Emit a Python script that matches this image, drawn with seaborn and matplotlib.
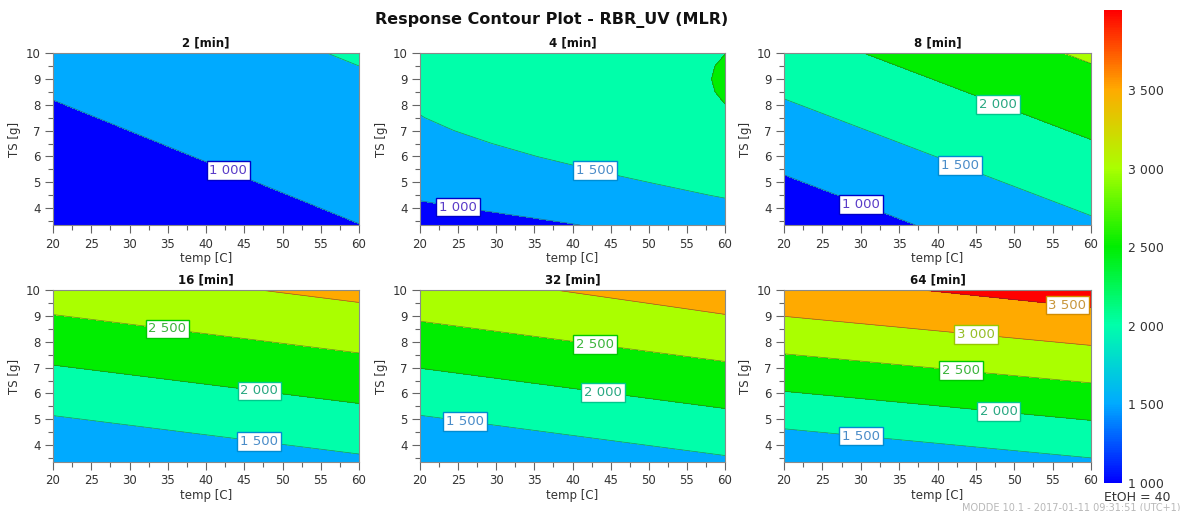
import numpy as np
import matplotlib
matplotlib.use("Agg")
import matplotlib.pyplot as plt
from matplotlib.ticker import MultipleLocator, FuncFormatter
from matplotlib.colors import Normalize
from matplotlib.cm import ScalarMappable
import seaborn as sns

# ---------------- data ----------------
temp_grid = [20, 30, 40, 50, 60]
ts_grid = [3.35, 4, 5, 6, 7, 8, 9, 10]
# the 4 min panel is curved, so it is read on a finer grid
temp_grid_4min = [20, 30, 40, 50, 55, 60]
ts_grid_4min = [3.35, 4, 4.5, 5, 5.5, 6, 6.5, 7, 7.5, 8, 8.5, 9, 9.5, 10]
panel_titles = ["2 [min]", "4 [min]", "8 [min]", "16 [min]", "32 [min]", "64 [min]"]

# response RBR_UV on the grid: one row per TS value, one column per temp value
rbr_2min = [[604, 702, 800, 898, 996],
            [657, 755, 853, 951, 1049],
            [739, 837, 935, 1033, 1131],
            [821, 919, 1017, 1115, 1213],
            [903, 1001, 1099, 1197, 1295],
            [985, 1083, 1181, 1279, 1377],
            [1067, 1165, 1263, 1361, 1459],
            [1149, 1247, 1345, 1443, 1541]]
rbr_4min = [[762, 874, 988, 1108, 1173, 1238],
            [933, 1045, 1159, 1279, 1344, 1409],
            [1050, 1162, 1276, 1396, 1461, 1526],
            [1154, 1266, 1380, 1500, 1565, 1630],
            [1247, 1359, 1473, 1593, 1658, 1723],
            [1327, 1439, 1553, 1673, 1738, 1803],
            [1394, 1506, 1620, 1740, 1805, 1870],
            [1450, 1562, 1676, 1796, 1861, 1926],
            [1493, 1605, 1719, 1839, 1904, 1969],
            [1523, 1635, 1749, 1869, 1934, 1999],
            [1541, 1653, 1767, 1887, 1952, 2017],
            [1547, 1659, 1773, 1893, 1958, 2023],
            [1541, 1653, 1767, 1887, 1952, 2017],
            [1522, 1634, 1748, 1868, 1933, 1998]]
rbr_8min = [[671, 863, 1055, 1247, 1439],
            [781, 973, 1165, 1357, 1549],
            [951, 1143, 1335, 1527, 1719],
            [1121, 1313, 1505, 1697, 1889],
            [1291, 1483, 1675, 1867, 2059],
            [1461, 1653, 1845, 2037, 2229],
            [1631, 1823, 2015, 2207, 2399],
            [1801, 1993, 2185, 2377, 2569]]
rbr_16min = [[1041, 1136, 1231, 1326, 1421],
             [1207, 1302, 1397, 1492, 1587],
             [1463, 1558, 1653, 1748, 1843],
             [1719, 1814, 1909, 2004, 2099],
             [1975, 2070, 2165, 2260, 2355],
             [2231, 2326, 2421, 2516, 2611],
             [2487, 2582, 2677, 2772, 2867],
             [2743, 2838, 2933, 3028, 3123]]
rbr_32min = [[1003, 1110, 1217, 1324, 1431],
             [1182, 1289, 1396, 1503, 1610],
             [1457, 1564, 1671, 1778, 1885],
             [1732, 1839, 1946, 2053, 2160],
             [2007, 2114, 2221, 2328, 2435],
             [2282, 2389, 2496, 2603, 2710],
             [2557, 2664, 2771, 2878, 2985],
             [2810, 2917, 3024, 3131, 3240]]
rbr_64min = [[1057, 1154, 1251, 1348, 1445],
             [1281, 1378, 1475, 1572, 1669],
             [1626, 1723, 1820, 1917, 2014],
             [1971, 2068, 2165, 2262, 2359],
             [2316, 2413, 2510, 2607, 2704],
             [2661, 2758, 2855, 2952, 3049],
             [3006, 3103, 3200, 3297, 3394],
             [3330, 3425, 3520, 3620, 3720]]
panels = [rbr_2min, rbr_4min, rbr_8min, rbr_16min, rbr_32min, rbr_64min]
panel_grids = [(temp_grid, ts_grid), (temp_grid_4min, ts_grid_4min), (temp_grid, ts_grid),
               (temp_grid, ts_grid), (temp_grid, ts_grid), (temp_grid, ts_grid)]

contour_levels = [1000, 1500, 2000, 2500, 3000, 3500]
colorbar_ticks = [1000, 1500, 2000, 2500, 3000, 3500]

# ---------------- layout / style ----------------
label_spots = [
    [(43, 5.5)],
    [(25, 4.0), (43, 5.5)],
    [(30, 4.1), (43, 5.7), (48, 8.1)],
    [(47, 4.3), (47, 6.15), (35, 8.6)],
    [(26, 5.1), (44, 6.1), (43, 8.0)],
    [(30, 4.3), (48, 5.4), (43, 6.7), (45, 8.1), (57, 9.6)],
]
anchor_colors = ["#0000FF", "#00AAFF", "#00FFAA", "#00EE00", "#AAFF00", "#FFAA00", "#FF0000"]
label_text_colors = {1000: "#5a3cc8", 1500: "#4a8cc8", 2000: "#2aa882", 2500: "#3cb43c",
                     3000: "#96be28", 3500: "#c8963c"}
label_edge_colors = {1000: "#0000c8", 1500: "#008cd2", 2000: "#00c88c", 2500: "#00c800",
                     3000: "#96c800", 3500: "#d28c00"}

sns.set_theme(style="ticks")
plt.rcParams['font.family'] = ['DejaVu Sans']

cmap = sns.blend_palette(anchor_colors, as_cmap=True)
vmin, vmax = 1000, 4000
fill_levels = [-1e6] + contour_levels + [1e6]
fill_colors = anchor_colors  # each band takes the colour of its upper limit


def space_fmt(v, pos=None):
    return f"{int(round(v)):,}".replace(",", " ")


fig = plt.figure(figsize=(11.82, 5.11), dpi=100)
W, H = 1182, 511
col_x = [(53, 359), (420, 725), (784, 1091)]
row_y = [(53, 225), (290, 462)]

for i, vals in enumerate(panels):
    r, c = divmod(i, 3)
    x0, x1 = col_x[c]
    y0, y1 = row_y[r]
    ax = fig.add_axes([x0 / W, 1 - y1 / H, (x1 - x0) / W, (y1 - y0) / H])
    tg, sg = panel_grids[i]
    T, S = np.meshgrid(tg, sg)
    Z = np.array(vals, dtype=float)
    ax.contourf(T, S, Z, levels=fill_levels, colors=fill_colors)
    cs = ax.contour(T, S, Z, levels=contour_levels, colors="#3a3a3a", linewidths=0.5, alpha=0.6)
    texts = ax.clabel(cs, inline=False, fontsize=9.5, fmt=space_fmt, manual=label_spots[i])
    for t in texts:
        lev = int(t.get_text().replace(" ", ""))
        t.set_rotation(0)
        t.set_color(label_text_colors[lev])
        t.set_bbox(dict(facecolor="white", edgecolor=label_edge_colors[lev], linewidth=1.0,
                        boxstyle="square,pad=0.22"))
        t.set_zorder(5)
    ax.set_xlim(20, 60)
    ax.set_ylim(3.35, 10)
    ax.set_xticks(range(20, 61, 5))
    ax.set_yticks(range(4, 11))
    ax.xaxis.set_minor_locator(MultipleLocator(2.5))
    ax.yaxis.set_minor_locator(MultipleLocator(0.5))
    ax.tick_params(which="major", direction="out", length=6, width=0.8, color="#666666",
                   labelsize=8.5, labelcolor="#333333", pad=3)
    ax.tick_params(which="minor", direction="out", length=3.5, width=0.8, color="#666666")
    for sp in ax.spines.values():
        sp.set_color("#8a8a8a")
        sp.set_linewidth(0.8)
    ax.set_title(panel_titles[i], fontsize=8.5, fontweight="bold", pad=5, color="#111111")
    ax.set_xlabel("temp [C]", fontsize=8.5, labelpad=1, color="#333333")
    ax.set_ylabel("TS [g]", fontsize=8.5, labelpad=3, color="#333333")

# colorbar
cax = fig.add_axes([1104 / W, 1 - 483 / H, 18 / W, 473 / H])
sm = ScalarMappable(norm=Normalize(vmin=vmin, vmax=vmax + 10), cmap=cmap)
cb = fig.colorbar(sm, cax=cax, ticks=colorbar_ticks, format=FuncFormatter(space_fmt))
cb.outline.set_visible(False)
cax.tick_params(length=0, labelsize=9, labelcolor="#333333", pad=4)

fig.text(552 / W, 1 - 20 / H, "Response Contour Plot - RBR_UV (MLR)", ha="center", va="center",
         fontsize=11.5, fontweight="bold", color="#111111")
fig.text(1137 / W, 1 - 497 / H, "EtOH = 40", ha="center", va="center", fontsize=9, color="#333333")
fig.text(1181 / W, 1 - 508 / H, "MODDE 10.1 - 2017-01-11 09:31:51 (UTC+1)", ha="right", va="center",
         fontsize=7, color="#b8b8b8")

fig.savefig("out.png", dpi=100)
